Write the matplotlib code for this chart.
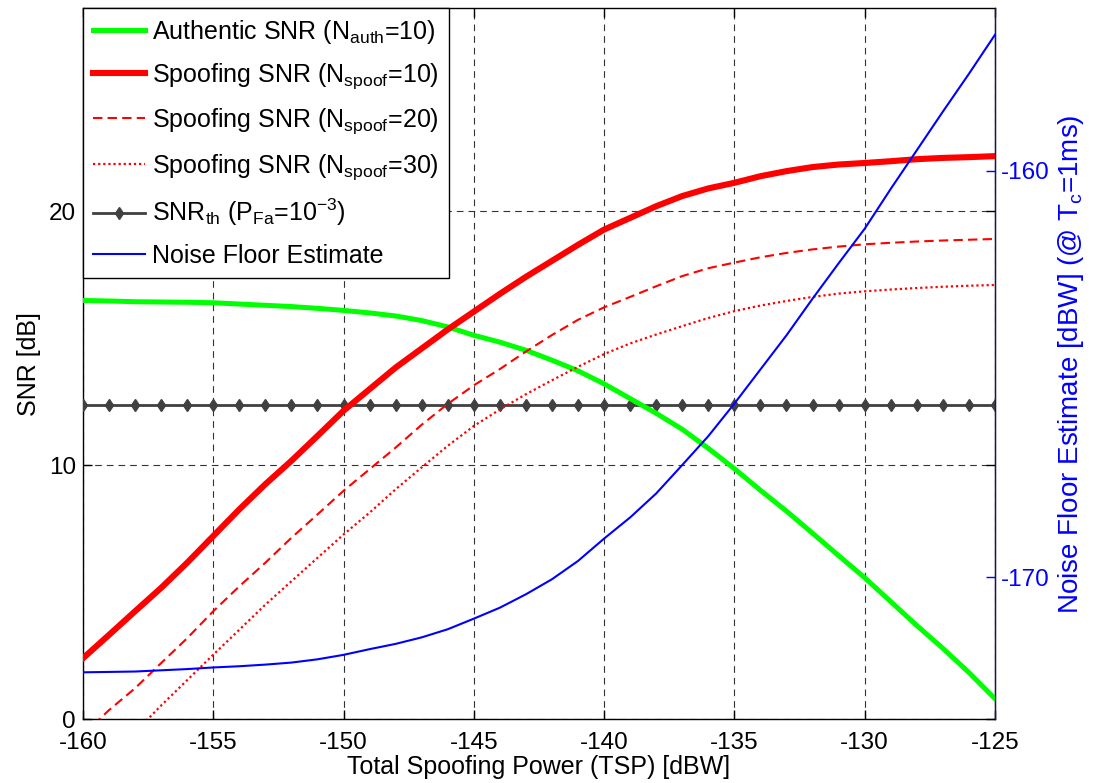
import matplotlib
matplotlib.use("Agg")
import matplotlib.pyplot as plt

plt.rcParams["font.family"] = ["Liberation Sans", "DejaVu Sans"]
plt.rcParams["mathtext.fontset"] = "custom"
plt.rcParams["mathtext.rm"] = "Liberation Sans"
plt.rcParams["mathtext.default"] = "regular"
plt.rcParams["axes.unicode_minus"] = False

# Total spoofing power [dBW]
tsp = [-160, -159, -158, -157, -156, -155, -154, -153, -152, -151, -150,
       -149, -148, -147, -146, -145, -144, -143, -142, -141, -140,
       -139, -138, -137, -136, -135, -134, -133, -132, -131, -130,
       -129, -128, -127, -126, -125]

# SNR curves [dB]
snr_auth = [16.49, 16.47, 16.44, 16.43, 16.42, 16.40, 16.35, 16.30, 16.25, 16.18, 16.10,
            16.00, 15.88, 15.70, 15.45, 15.12, 14.85, 14.53, 14.14, 13.72, 13.21,
            12.63, 12.05, 11.42, 10.67, 9.87, 9.02, 8.20, 7.33, 6.45, 5.58,
            4.64, 3.70, 2.80, 1.85, 0.82]
snr_spoof10 = [2.41, 3.33, 4.26, 5.18, 6.17, 7.22, 8.27, 9.26, 10.18, 11.16, 12.15,
               13.00, 13.85, 14.60, 15.35, 16.05, 16.75, 17.42, 18.05, 18.68, 19.28,
               19.74, 20.20, 20.60, 20.90, 21.12, 21.38, 21.58, 21.74, 21.84, 21.90,
               21.97, 22.05, 22.10, 22.13, 22.17]
snr_spoof20 = [-0.60, 0.37, 1.23, 2.22, 3.20, 4.26, 5.24, 6.17, 7.15, 8.07, 9.00,
               9.85, 10.70, 11.60, 12.42, 13.15, 13.79, 14.48, 15.13, 15.73, 16.22,
               16.63, 17.05, 17.45, 17.76, 17.98, 18.19, 18.36, 18.50, 18.61, 18.70,
               18.76, 18.81, 18.85, 18.88, 18.91]
snr_spoof30 = [-2.40, -1.45, -0.50, 0.55, 1.55, 2.55, 3.53, 4.52, 5.44, 6.36, 7.28,
               8.14, 9.06, 9.92, 10.77, 11.55, 12.20, 12.80, 13.35, 13.88, 14.38,
               14.80, 15.15, 15.48, 15.80, 16.07, 16.29, 16.47, 16.63, 16.76, 16.85,
               16.92, 16.98, 17.03, 17.07, 17.10]
snr_threshold = 12.38

# Noise floor estimate [dBW] (right axis)
noise_floor = [-172.34, -172.33, -172.32, -172.29, -172.26, -172.22, -172.19, -172.15, -172.10, -172.02, -171.91,
               -171.77, -171.64, -171.48, -171.28, -171.02, -170.75, -170.42, -170.05, -169.60, -169.05,
               -168.53, -167.94, -167.24, -166.53, -165.73, -164.89, -164.05, -163.15, -162.28, -161.43,
               -160.45, -159.50, -158.55, -157.62, -156.66]

x_ticks = [-160, -155, -150, -145, -140, -135, -130, -125]
y_ticks = [0, 10, 20]
y2_ticks = [-170, -160]

fig = plt.figure(figsize=(10.96, 7.83), dpi=100)
ax = fig.add_axes([0.0757, 0.0811, 0.8321, 0.9087])
ax2 = ax.twinx()

gray = "#404040"
h_th, = ax.plot(tsp, [snr_threshold] * len(tsp), "-d", color=gray, lw=2.0,
                ms=6.0, mfc=gray, mec=gray, zorder=3)
h_auth, = ax.plot(tsp, snr_auth, color="#00ff00", lw=3.6, zorder=4)
h_s10, = ax.plot(tsp, snr_spoof10, color="#ff0000", lw=4.4, zorder=5)
h_s20, = ax.plot(tsp, snr_spoof20, color="#ff0000", lw=1.5,
                 linestyle=(0, (4.5, 2.5)), zorder=5)
h_s30, = ax.plot(tsp, snr_spoof30, color="#ff0000", lw=1.6,
                 linestyle=(0, (1.0, 1.3)), zorder=5)
h_nf, = ax2.plot(tsp, noise_floor, color="#0000ff", lw=1.5)

ax.set_xlim(-160, -125)
ax.set_ylim(0, 28)
ax.set_xticks(x_ticks)
ax.set_yticks(y_ticks)
ax2.set_ylim(-173.5, -156)
ax2.set_yticks(y2_ticks)

ax.grid(True, linestyle=(0, (6, 4.5)), color="#333333", lw=0.8)

ax.tick_params(direction="in", length=6.5, width=1, top=True, right=True,
               labelsize=17.5)
ax.tick_params(axis="x", pad=9)
ax.tick_params(axis="y", pad=5)
ax2.tick_params(axis="y", direction="in", length=6.5, width=1, colors="#0000ff",
                labelsize=17.5, pad=4)
for side in ("left", "top", "bottom"):
    ax2.spines[side].set_visible(False)
ax2.spines["right"].set_color("#0000ff")
for sp in ax.spines.values():
    sp.set_linewidth(1.0)

ax.set_xlabel("Total Spoofing Power (TSP) [dBW]", fontsize=18, labelpad=1)
ax.set_ylabel("SNR [dB]", fontsize=18, labelpad=6)
ax2.set_ylabel("Noise Floor Estimate [dBW] (@ T$_c$=1ms)", color="#0000ff",
               fontsize=20, labelpad=5)

handles = [h_auth, h_s10, h_s20, h_s30, h_th, h_nf]
labels = ["Authentic SNR (N$_{auth}$=10)",
          "Spoofing SNR (N$_{spoof}$=10)",
          "Spoofing SNR (N$_{spoof}$=20)",
          "Spoofing SNR (N$_{spoof}$=30)",
          "SNR$_{th}$ (P$_{Fa}$=10$^{-3}$)",
          "Noise Floor Estimate"]
leg = ax2.legend(handles, labels, loc="upper left", bbox_to_anchor=(0, 1),
                 borderaxespad=0, fancybox=False, edgecolor="black",
                 framealpha=1, fontsize=18, handlelength=2.1,
                 handletextpad=0.25, labelspacing=0.62, borderpad=0.4)
leg.get_frame().set_linewidth(1.0)

fig.savefig("out.png", dpi=100)
